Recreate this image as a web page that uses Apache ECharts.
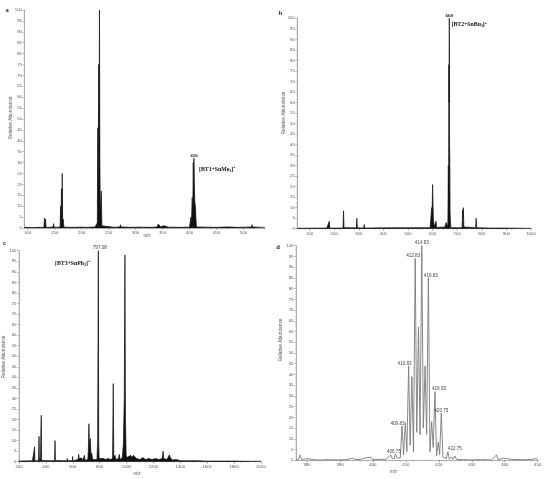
<!DOCTYPE html>
<html>
<head>
<meta charset="utf-8">
<script src="https://cdn.jsdelivr.net/npm/echarts@6/dist/echarts.min.js"></script>
<style>html,body{margin:0;padding:0;background:#fff;}#c{width:550px;height:479px;}</style>
</head>
<body>
<div id="c"></div>
<script>
// ---------- data ----------
const specA = [[94,0.3],[110,0.2],[120,0.3],[130,0.3],[131,4.5],[132,0.5],[133,4],[134,0.3],[140,0.3],[147,0.5],[148,2],[149,0.4],[155,0.3],[160,0.5],[161,10],[161.8,3],[162.5,18],[163.2,4],[164,25],[164.8,3],[166,4],[167,0.4],[180,0.3],[200,0.4],[210,0.3],[225,0.5],[228,2],[229,0.5],[230,46],[230.7,10],[231.5,75],[232.2,33],[233,100],[233.8,32],[234.5,8],[236.5,17],[237.5,1],[240,0.4],[260,0.3],[271,0.5],[272,1.5],[273,0.5],[290,0.3],[310,0.4],[330,0.3],[340,0.5],[342,1.8],[344,1.5],[346,0.6],[352,1],[356,0.8],[360,0.4],[380,0.3],[400,0.4],[401.5,1],[402.6,5],[403.5,2],[405,14],[406,8],[407,30],[407.6,15],[408.2,32],[409,20],[409.8,12],[411,10],[412,4],[413,0.5],[430,0.4],[450,0.3],[470,0.5],[490,0.3],[505,0.4],[515,0.5],[516,1.5],[517,0.5],[540,0.3]];
const specB = [[50,0.2],[170,0.3],[180,3.5],[182,0.3],[236,0.3],[238,8.5],[240,0.5],[290,0.4],[292,5],[294,0.4],[320,0.3],[322,2],[324,0.3],[400,0.4],[540,0.5],[590,0.5],[596,10],[598,8],[600,21],[603,5],[606,1],[612,1],[614,3.5],[616,0.6],[650,0.8],[655,3],[659,2.5],[662,1],[664,30],[665,15],[666,78],[667,60],[668,100],[669,40],[670,33],[671,8],[672,5],[674,0.5],[720,0.5],[722,9],[723,5],[725,10],[727,0.8],[775,0.5],[777,5],[779,0.5],[830,0.3],[833,0.7],[836,0.3],[890,0.3],[894,0.5],[898,0.2],[1000,0.2]];
const specC = [[200,0.3],[300,0.4],[314,0.3],[316,7],[318,0.4],[345,0.5],[349,12],[351,3],[353,0.5],[360,2],[363,15],[366,22],[368,0.6],[400,0.5],[465,0.5],[468,10],[471,0.6],[528,0.5],[530,1],[532,0.5],[557,0.5],[559,1.5],[561,0.5],[597,0.5],[599,2.5],[601,0.5],[640,1],[644,3.5],[648,1.5],[655,2],[665,1.8],[672,0.6],[686,0.6],[688,3],[690,0.7],[712,1],[716,6],[720,18],[724,7],[730,11],[736,3],[741,4],[748,1],[780,1],[785,10],[790,100],[793,8],[796,1.5],[810,1],[827,1.5],[845,1],[864,1.5],[880,1],[896,1.5],[901,37],[905,2],[914,3],[920,1],[940,1.5],[946,3.5],[952,1],[968,2],[976,8],[983,30],[988,98],[992,20],[997,3],[1004,2],[1030,3],[1040,2],[1050,3],[1060,2.5],[1075,1.5],[1100,1],[1120,2],[1140,1],[1165,1.5],[1190,1],[1215,1.5],[1240,1],[1265,1.5],[1272,5],[1276,1.5],[1300,1],[1318,3.2],[1325,2],[1340,0.8],[1372,1],[1400,0.5],[1450,0.4],[1477,0.5],[1479,1],[1482,0.4],[1536,0.4],[1539,1.3],[1542,0.4],[1600,0.3],[1700,0.3],[1800,0.3],[1900,0.2],[2000,0.2]];
const specD = [[376.7,0.3],[377.5,0.5],[377.9,2.5],[378.4,0.3],[379,0.5],[380,0.8],[380.5,0.2],[382,0.3],[384,0.1],[386,0.3],[388,0.2],[390,0.2],[392,0.3],[393.9,1],[394.6,0.3],[396,0.4],[397.4,1],[398,0.3],[399.4,1.5],[400,0.3],[402,0.4],[404,0.5],[405.4,2.5],[405.8,1],[406.2,1.5],[406.5,0.8],[406.83,3],[407.3,1.2],[407.83,2],[408.3,1],[408.83,16],[409.3,2.5],[409.83,17.5],[410.3,4],[410.83,44],[411.3,7],[411.83,39],[412.3,4],[412.83,94],[413.3,13],[413.83,62],[414.3,12],[414.83,100],[415.3,15],[415.83,44],[416.3,12],[416.83,85],[417.3,4],[417.83,18],[418.3,6],[418.83,32],[419.3,2],[419.83,8.5],[420.25,2.5],[420.75,22],[421.25,1.5],[421.75,1],[422.25,0.8],[422.75,4],[423.2,0.5],[423.75,1.5],[424.3,0.5],[424.9,2],[425.4,0.4],[427,0.3],[430,0.2],[433,0.3],[436,0.2],[437.5,2.5],[438,0.3],[439.5,1],[440,0.2],[442,0.4],[445,0.3],[448,0.3],[449.5,0.8],[450,0.3]];

// peak labels: [m/z of data point, text]
const labelsA = [[408.2,'416']];
const labelsB = [[668,'668']];
const labelsC = [[790,'797.08']];
const labelsD = [[406.83,'406.75'],[408.83,'409.83'],[410.83,'410.83'],[412.83,'412.83'],[414.83,'414.83'],[416.83,'416.83'],[418.83,'418.83'],[420.75,'420.75'],[422.75,'422.75']];

// tick labels
const ticksA = [100,150,200,250,300,350,400,450,500];
const ticksB = [100,200,300,400,500,600,700,800,900,1000];
const ticksC = [200,400,600,800,1000,1200,1400,1600,1800,2000];
const ticksD = [380,390,400,410,420,430,440,450];
const minorA = [100,110,120,130,140,150,160,170,180,190,200,210,220,230,240,250,260,270,280,290,300,310,320,330,340,350,360,370,380,390,400,410,420,430,440,450,460,470,480,490,500,510,520,530];
const minorB = [60,80,100,120,140,160,180,200,220,240,260,280,300,320,340,360,380,400,420,440,460,480,500,520,540,560,580,600,620,640,660,680,700,720,740,760,780,800,820,840,860,880,900,920,940,960,980,1000];
const minorC = [200,250,300,350,400,450,500,550,600,650,700,750,800,850,900,950,1000,1050,1100,1150,1200,1250,1300,1350,1400,1450,1500,1550,1600,1650,1700,1750,1800,1850,1900,1950,2000];
const minorD = [378,380,382,384,386,388,390,392,394,396,398,400,402,404,406,408,410,412,414,416,418,420,422,424,426,428,430,432,434,436,438,440,442,444,446,448,450];

// ---------- layout ----------
const panels = [
  {spec:specA, labels:labelsA, ticks:ticksA, minor:minorA, min:94, max:540, grid:{left:24.5, top:10, width:240.5, height:218}, kind:'fill', lab:'serif'},
  {spec:specB, labels:labelsB, ticks:ticksB, minor:minorB, min:50, max:1000, grid:{left:297.3, top:18.3, width:233.7, height:210.4}, kind:'fill', lab:'serif'},
  {spec:specC, labels:labelsC, ticks:ticksC, minor:minorC, min:200, max:2000, grid:{left:19, top:250.7, width:242, height:211}, kind:'fill', lab:'sans'},
  {spec:specD, labels:labelsD, ticks:ticksD, minor:minorD, min:376.66, max:450, grid:{left:296, top:245.7, width:241.7, height:214.6}, kind:'line', lab:'sans'}
];
const labelOffsetD = {'406.75':[-1.5,0],'409.83':[-4.5,0],'410.83':[-4,0],'412.83':[-2,0],'414.83':[0,0],'416.83':[2.5,0],'418.83':[4,0],'420.75':[0,0],'422.75':[7,0]};

const tickFont = {fontSize:4.3, color:'#555', fontFamily:'Liberation Sans, Arial, sans-serif'};
const axisCol = '#777';
const plain = v => String(v);

const grids=[], xAxes=[], yAxes=[], series=[];
panels.forEach((p,i)=>{
  grids.push(Object.assign({containLabel:false}, p.grid));
  xAxes.push({type:'value', gridIndex:i, position:'bottom', min:p.min, max:p.max, splitLine:{show:false},
    axisLine:{lineStyle:{color:axisCol, width:0.6}},
    axisTick:{customValues:p.ticks, length:2, lineStyle:{color:axisCol, width:0.5}},
    axisLabel:Object.assign({customValues:p.ticks, margin:3, formatter:plain}, tickFont)});
  yAxes.push({type:'value', gridIndex:i, position:'left', min:0, max:100, interval:5, splitLine:{show:false},
    axisLine:{show:true, lineStyle:{color:axisCol, width:0.6}},
    axisTick:{show:true, length:2, lineStyle:{color:axisCol, width:0.5}},
    minorTick:{show:true, splitNumber:5, length:1, lineStyle:{color:axisCol, width:0.4}},
    axisLabel:Object.assign({margin:2.5, formatter:plain}, tickFont)});
});
panels.forEach((p,i)=>{
  xAxes.push({type:'value', gridIndex:i, position:'bottom', offset:0, min:p.min, max:p.max, splitLine:{show:false},
    axisLine:{show:false}, axisLabel:{show:false},
    axisTick:{customValues:p.minor, length:1.2, lineStyle:{color:axisCol, width:0.4}}});
});

panels.forEach((p,i)=>{
  const lblMap = new Map(p.labels.map(l=>[l[0], l[1]]));
  const data = p.spec.map(pt=>{
    if (lblMap.has(pt[0])) {
      const t = lblMap.get(pt[0]);
      const lab = p.lab==='serif'
        ? {show:true, position:'top', distance:0.5, formatter:t, fontSize:5, fontWeight:'bold', color:'#111', fontFamily:'Liberation Serif, Times New Roman, serif'}
        : {show:true, position:'top', distance:0, formatter:t, fontSize:4.6, color:'#444', fontFamily:'Liberation Sans, Arial, sans-serif', offset:(p.kind==='line' ? (labelOffsetD[t]||[0,0]) : [1.5,0])};
      return {value:pt, label:lab};
    }
    return {value:pt};
  });
  const s = {type:'line', xAxisIndex:i, yAxisIndex:i, data:data, symbol:'circle', symbolSize:0.01, showSymbol:true, showAllSymbol:true,
    silent:true, clip:false, animation:false, z:3,
    label:{show:false}};
  if (p.kind==='fill') {
    s.lineStyle = {color:'#111', width:0.7};
    s.itemStyle = {color:'#111'};
    s.areaStyle = {color:'#111', opacity:1};
  } else {
    s.lineStyle = {color:'#7a7a7a', width:0.9};
    s.itemStyle = {color:'#7a7a7a'};
  }
  series.push(s);
});

function bt(x,y,base,sub){
  return {type:'text', left:x, top:y, z:10, style:{
    text:'{m|'+base+'}{s|'+sub+'}{m|]}{p|+}',
    rich:{
      m:{fontSize:5.8, fontWeight:'bold', fontFamily:'Liberation Serif, Times New Roman, serif', fill:'#111', verticalAlign:'middle'},
      s:{fontSize:3.8, fontWeight:'bold', fontFamily:'Liberation Serif, Times New Roman, serif', fill:'#111', padding:[3,0,0,0]},
      p:{fontSize:3.8, fontWeight:'bold', fontFamily:'Liberation Serif, Times New Roman, serif', fill:'#111', padding:[0,0,4,0]}
    }}};
}
function yname(x,y){
  return {type:'text', x:x, y:y, rotation:Math.PI/2, z:10, style:{text:'Relative Abundance', fontSize:4.8, fill:'#555', fontFamily:'Liberation Sans, Arial, sans-serif', align:'center', verticalAlign:'middle'}};
}
function txt(x,y,t,opts){
  return {type:'text', x:x, y:y, z:10, style:Object.assign({text:t, fill:'#222', align:'center', verticalAlign:'middle'}, opts)};
}
const panelLetter = {fontSize:6.5, fontWeight:'bold', fontFamily:'Liberation Serif, Times New Roman, serif'};
const mzFont = {fontSize:4.5, fill:'#555', fontFamily:'Liberation Sans, Arial, sans-serif'};

const graphic = [
  txt(7,10,'a',panelLetter), txt(280.5,13,'b',panelLetter), txt(4.5,243,'c',panelLetter), txt(278,247,'d',panelLetter),
  yname(10.7,118), yname(284,113), yname(4,357), yname(280.5,340),
  txt(147,235.5,'m/z',mzFont), txt(137,474,'m/z',mzFont), txt(393.5,472,'m/z',mzFont),
  bt(199,165.5,'[BT1+SnMe','3'), bt(451.5,21,'[BT2+SnBu','3'), bt(55,259.5,'[BT3+SnPh','3')
];

const chart = echarts.init(document.getElementById('c'), null, {renderer:'canvas'});
chart.setOption({animation:false, backgroundColor:'#fff', grid:grids, xAxis:xAxes, yAxis:yAxes, series:series, graphic:graphic});
</script>
</body>
</html>
